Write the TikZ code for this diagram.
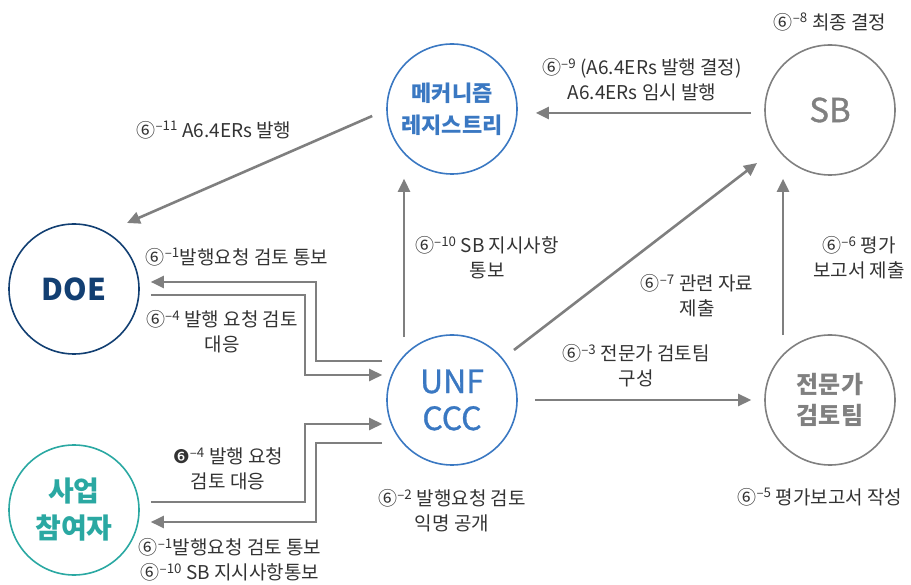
\documentclass[tikz,border=0pt]{standalone}
\usepackage{fontspec}
\setmainfont{Noto Sans CJK KR}
\newfontfamily\medfont[FakeBold=1]{Noto Sans CJK KR}
\newfontfamily\dingfont{DejaVu Sans}
\usepackage{tikz}
\usetikzlibrary{arrows.meta}

\definecolor{regblue}{HTML}{3A78C2}
\definecolor{doenavy}{HTML}{123F72}
\definecolor{parteal}{HTML}{2AA8A2}
\definecolor{circgray}{HTML}{808080}
\definecolor{arrgray}{HTML}{7F7F7F}
\definecolor{labgray}{HTML}{333333}

\newcommand{\stepno}[1]{⑥\textsuperscript{–#1}}

\tikzset{
    actor/.style={circle, draw, line width=1.6pt, minimum size=130pt, inner sep=0pt, align=center},
    arr/.style={draw=arrgray, line width=2.6pt, -{Triangle[length=13pt,width=12pt]}},
    lab/.style={text=labgray, align=center, inner sep=0pt, font=\fontsize{19}{25}\selectfont}
}

\begin{document}
\begin{tikzpicture}[x=1pt, y=-1pt]
    \useasboundingbox (0,0) rectangle (911,585);

    % Actors
    \node[actor, draw=regblue, text=regblue, font=\bfseries\fontsize{22}{32}\selectfont] (reg) at (452,109) {메커니즘\\레지스트리};
    \node[actor, draw=circgray, text=circgray, font=\medfont\fontsize{33}{37}\selectfont] (sb) at (830,110) {SB};
    \node[actor, draw=doenavy, text=doenavy, font=\bfseries\fontsize{30}{37}\selectfont] (doe) at (74,289) {DOE};
    \node[actor, draw=regblue, text=regblue, font=\medfont\fontsize{32}{37}\selectfont] (unf) at (452,400) {UNF\\CCC};
    \node[actor, draw=circgray, text=circgray, font=\bfseries\fontsize{24}{31}\selectfont] (exp) at (830,400) {전문가\\검토팀};
    \node[actor, draw=parteal, text=parteal, font=\bfseries\fontsize{28}{37}\selectfont] (par) at (74,510) {사업\\참여자};

    % Straight connectors
    \draw[arr] ([shift={(-14,7)}]reg.west) -- ([shift={(53,-66)}]doe.center);
    \draw[arr] ([shift={(-13,3)}]sb.west) -- ([shift={(18,4)}]reg.east);
    \draw[arr] ([shift={(-48,3)}]unf.north) -- ([shift={(-48,4)}]reg.south);
    \draw[arr] ([shift={(62,-50)}]unf.center) -- ([shift={(-73,53)}]sb.center);
    \draw[arr] ([shift={(-47,1)}]exp.north) -- ([shift={(-47,3)}]sb.south);
    \draw[arr] ([shift={(17,0)}]unf.east) -- ([shift={(-13,0)}]exp.west);

    % Elbow connectors
    \draw[arr] ([shift={(-4,-39)}]unf.west) -| (316,282) -- ([shift={(11,-7)}]doe.east);
    \draw[arr] ([shift={(11,6)}]doe.east) -| (305,375) -- ([shift={(-4,-25)}]unf.west);
    \draw[arr] ([shift={(11,-8)}]par.east) -| (305,424) -- ([shift={(-4,24)}]unf.west);
    \draw[arr] ([shift={(-4,43)}]unf.west) -| (316,522) -- ([shift={(11,12)}]par.east);

    % Labels
    \node[lab] (l11) at (214,130) {\stepno{11} A6.4ERs 발행};
    \node[lab] (l9) at (642,80) {\stepno{9} (A6.4ERs 발행 결정)\\A6.4ERs 임시 발행};
    \node[lab] (l8) at (830,22) {\stepno{8} 최종 결정};
    \node[lab] (l1a) at (237,257) {\stepno{1}발행요청 검토 통보};
    \node[lab] (l10) at (487,258) {\stepno{10} SB 지시사항\\통보};
    \node[lab] (l7) at (697,296) {\stepno{7} 관련 자료\\제출};
    \node[lab] (l6) at (859,258) {\stepno{6} 평가\\보고서 제출};
    \node[lab] (l4a) at (222,332) {\stepno{4} 발행 요청 검토\\대응};
    \node[lab] (l3) at (636,366) {\stepno{3} 전문가 검토팀\\구성};
    \node[lab] (l4b) at (228,469) {{\dingfont ❻}\textsuperscript{–4} 발행 요청\\검토 대응};
    \node[lab] (l2) at (452,511) {\stepno{2} 발행요청 검토\\익명 공개};
    \node[lab] (l5) at (820,497) {\stepno{5} 평가보고서 작성};
    \node[lab] (l1b) at (230,560) {\stepno{1}발행요청 검토 통보\\\stepno{10} SB 지시사항통보};

\end{tikzpicture}
\end{document}
